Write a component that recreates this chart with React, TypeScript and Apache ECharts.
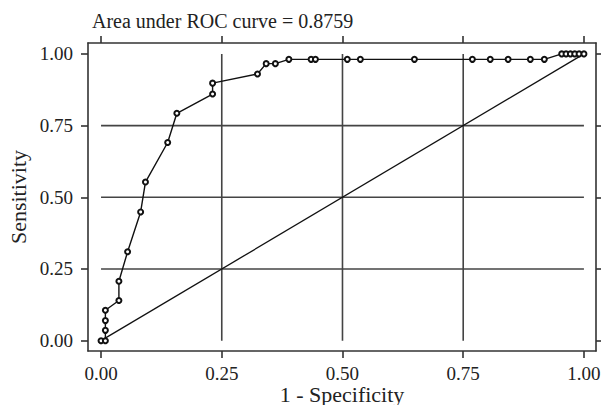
import React, { useEffect, useRef } from "react";
import * as echarts from "echarts";

const titleText = "Area under ROC curve = 0.8759";
const xName = "1 - Specificity";
const yName = "Sensitivity";
const tickValues = [0, 0.25, 0.5, 0.75, 1];
const gridValues = [0.25, 0.5, 0.75];
const fpr = [0, 0.009, 0.009, 0.009, 0.009, 0.037, 0.037, 0.055, 0.082, 0.092, 0.138, 0.157, 0.231, 0.231, 0.324, 0.342, 0.361, 0.389, 0.435, 0.444, 0.51, 0.537, 0.649, 0.769, 0.806, 0.843, 0.889, 0.918, 0.954, 0.963, 0.972, 0.981, 0.99, 1.0];
const tpr = [0, 0, 0.036, 0.07, 0.106, 0.14, 0.207, 0.31, 0.449, 0.553, 0.691, 0.793, 0.86, 0.898, 0.93, 0.966, 0.966, 0.981, 0.981, 0.981, 0.981, 0.981, 0.981, 0.981, 0.981, 0.981, 0.981, 0.981, 1, 1, 1, 1, 1, 1];
const refLine = [[0, 0], [1, 1]];

export default function App() {
  const ref = useRef<HTMLDivElement>(null);
  useEffect(() => {
    document.body.style.margin = "0";
    const chart = echarts.init(ref.current!, null, { renderer: "svg" });
    const font = "Liberation Serif";
    const ink = "#222";
    const xMin = -0.027, xMax = 1.025, yMin = -0.036, yMax = 1.038;
    const frameAxis = (extra: any) => ({
      type: "value",
      splitLine: { show: false },
      axisLine: { show: true, onZero: false, lineStyle: { color: "#333", width: 1.6 } },
      axisTick: { show: true, inside: false, length: 7, customValues: tickValues, lineStyle: { color: "#333", width: 1.6 } },
      ...extra,
    });
    const labelStyle = { fontFamily: font, fontSize: 19, lineHeight: 18, color: ink };
    const nameStyle = { fontFamily: font, fontSize: 22, lineHeight: 20, color: ink };
    const gridSeries: any[] = [];
    gridValues.forEach((v) => {
      gridSeries.push({
        type: "line", data: [[v, 0], [v, 1]], symbol: "none", silent: true,
        lineStyle: { color: "#444", width: 1.6 }, z: 1,
      });
      gridSeries.push({
        type: "line", data: [[0, v], [1, v]], symbol: "none", silent: true,
        lineStyle: { color: "#444", width: 1.6 }, z: 1,
      });
    });
    chart.setOption({
      animation: false,
      backgroundColor: "#fff",
      title: {
        text: titleText, left: 87, top: 6,
        textStyle: { fontFamily: font, fontSize: 20, fontWeight: "normal", color: ink },
      },
      grid: { left: 88, right: 6, top: 43, bottom: 54, containLabel: false, outerBoundsMode: "none" },
      xAxis: [
        frameAxis({
          position: "bottom", min: xMin, max: xMax,
          name: xName, nameLocation: "middle", nameGap: 33, nameMoveOverlap: false,
          nameTextStyle: nameStyle,
          axisLabel: { show: true, customValues: tickValues, margin: 13, formatter: (v: number) => v.toFixed(2), ...labelStyle },
        }),
        frameAxis({
          position: "top", min: xMin, max: xMax,
          axisLabel: { show: false },
        }),
      ],
      yAxis: [
        frameAxis({
          position: "left", min: yMin, max: yMax,
          name: yName, nameLocation: "middle", nameGap: 60, nameRotate: 90, nameMoveOverlap: false,
          nameTextStyle: nameStyle,
          axisLabel: { show: true, customValues: tickValues, margin: 15, formatter: (v: number) => v.toFixed(2), ...labelStyle },
        }),
        frameAxis({
          position: "right", min: yMin, max: yMax,
          axisTick: { show: true, inside: false, length: 5, customValues: tickValues, lineStyle: { color: "#333", width: 1.6 } },
          axisLabel: { show: false },
        }),
      ],
      series: [
        ...gridSeries,
        {
          type: "line", data: refLine, symbol: "none", silent: true,
          lineStyle: { color: "#111", width: 1.3 }, z: 2,
        },
        {
          type: "line", data: fpr.map((x, i) => [x, tpr[i]]),
          symbol: "emptyCircle", symbolSize: 5, showAllSymbol: true,
          itemStyle: { color: "#111", borderWidth: 1.2 },
          lineStyle: { color: "#111", width: 1.4 }, z: 3,
        },
      ],
    });
    return () => chart.dispose();
  }, []);
  return <div ref={ref} style={{ width: 602, height: 405 }} />;
}
